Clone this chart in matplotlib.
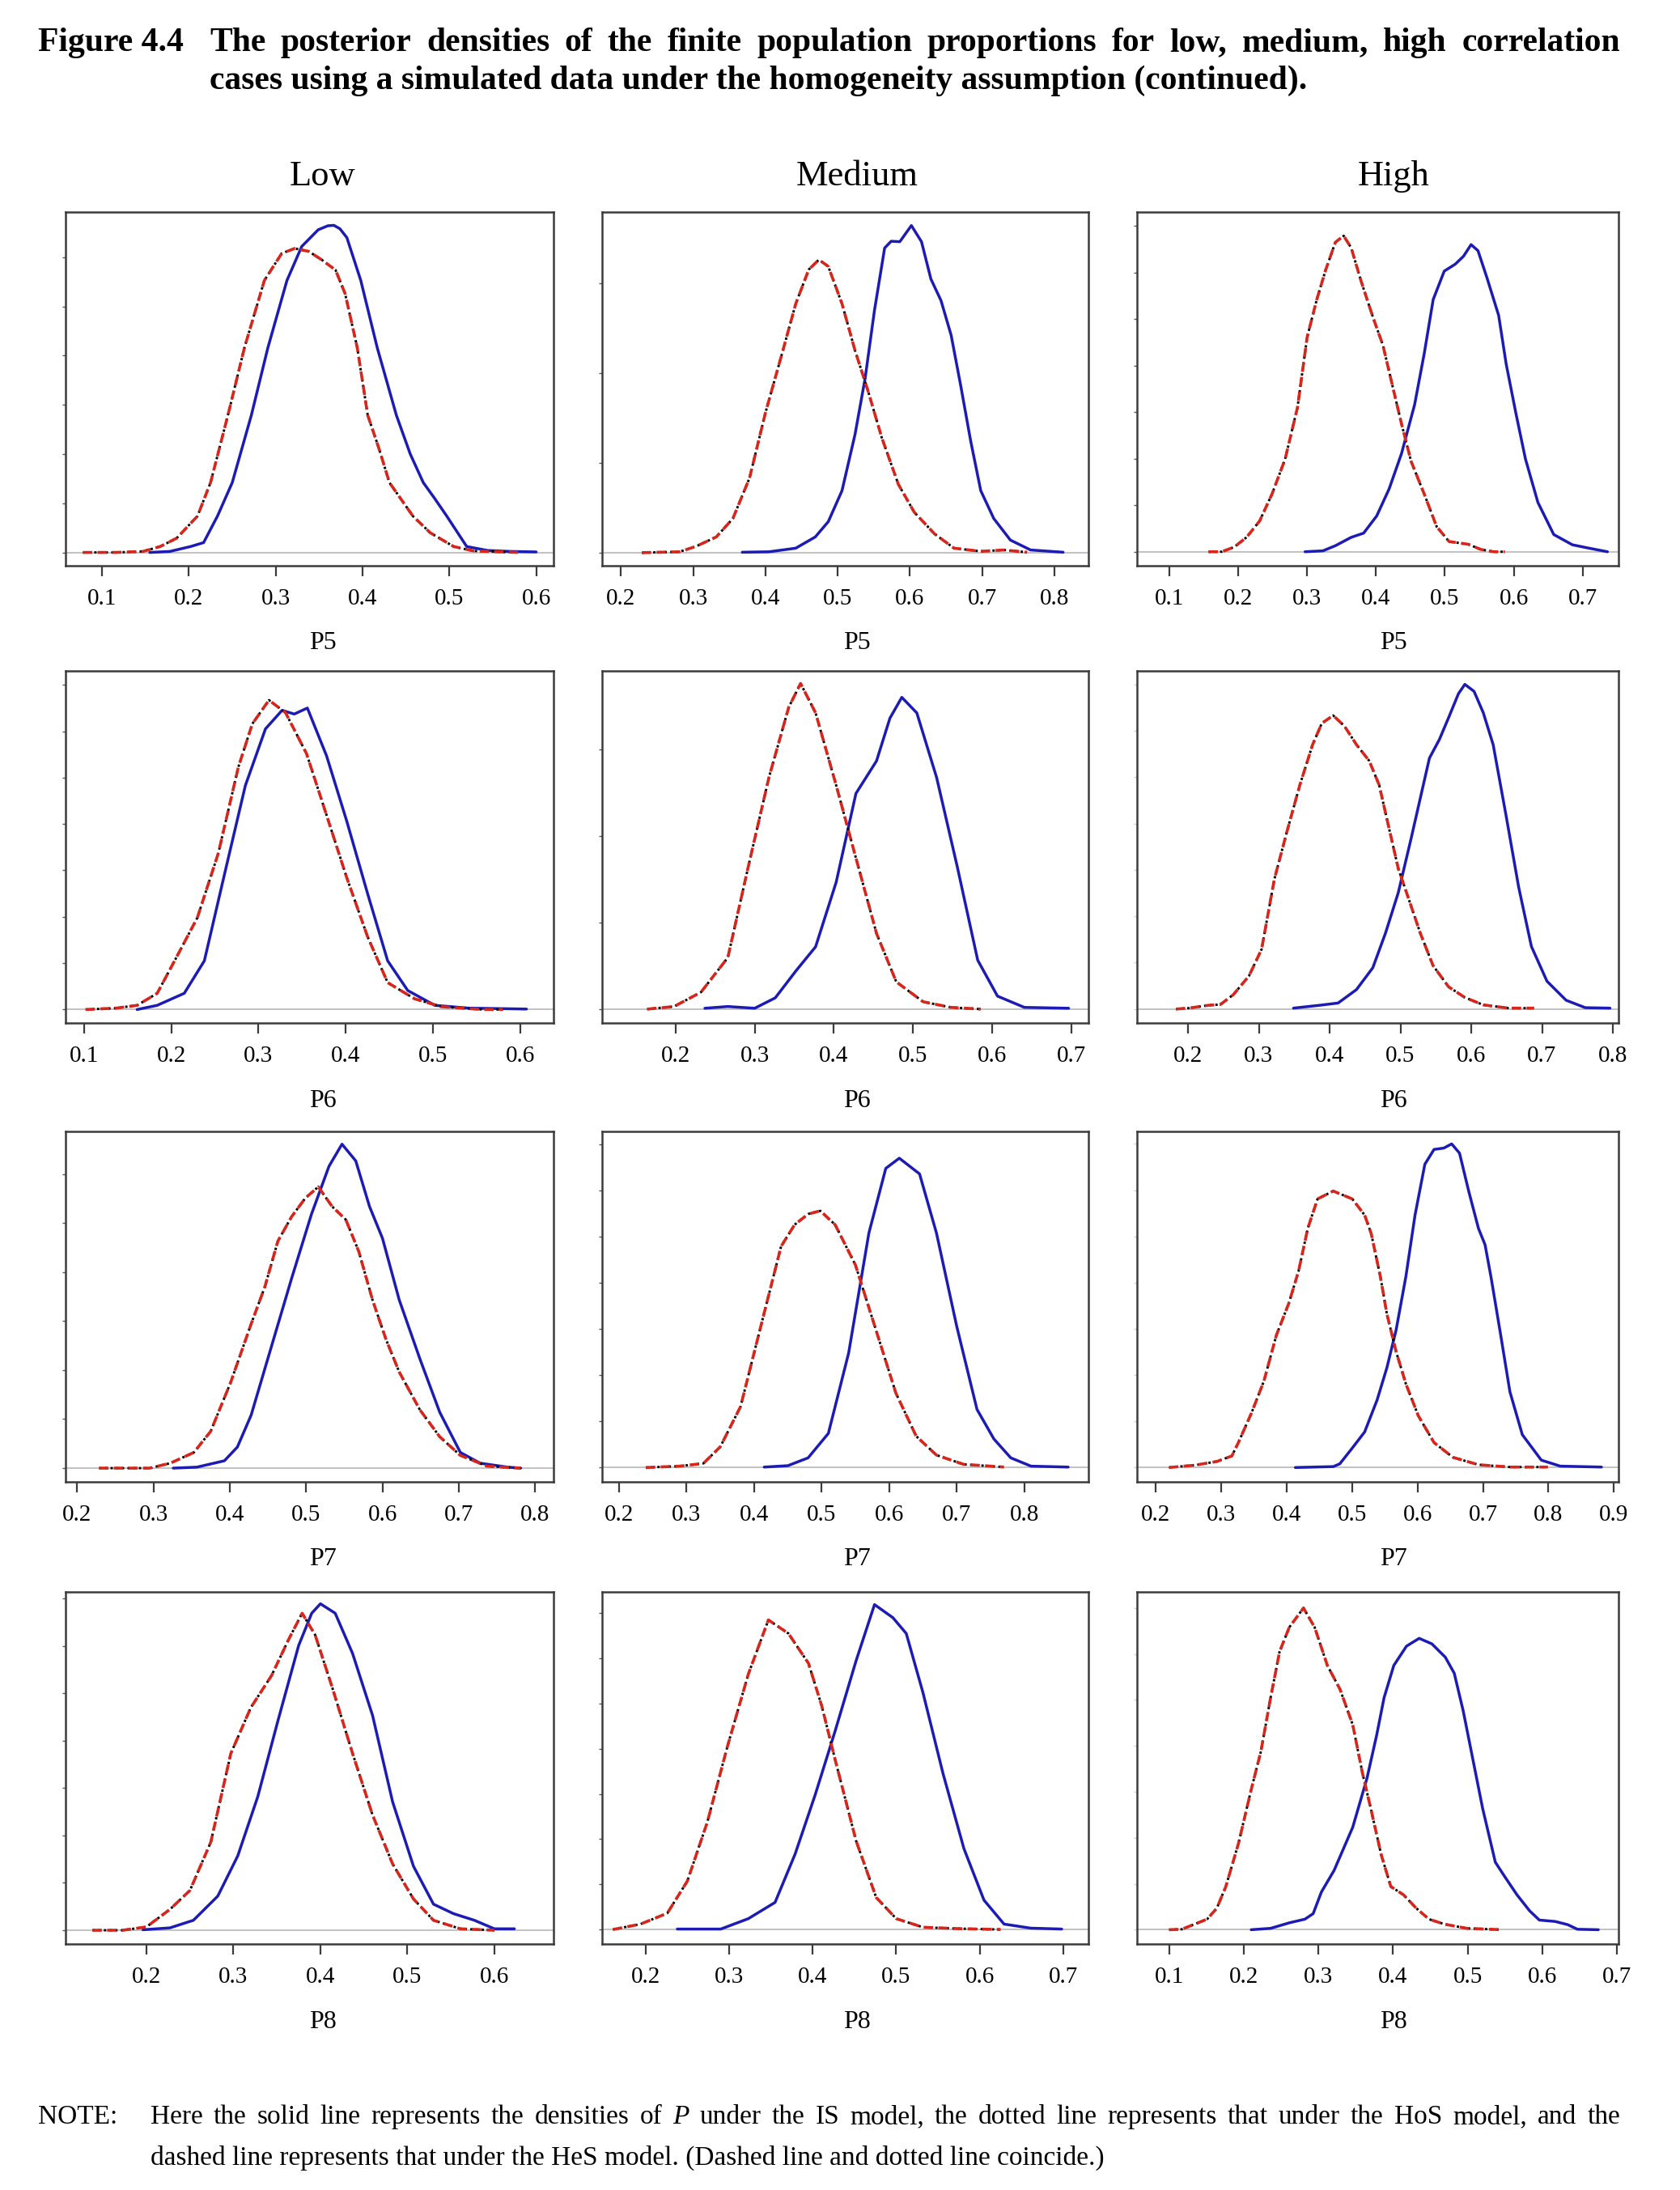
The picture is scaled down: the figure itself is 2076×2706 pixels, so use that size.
import matplotlib
matplotlib.use("Agg")
import matplotlib.pyplot as plt
from matplotlib.ticker import FixedLocator, MultipleLocator, NullFormatter

plt.rcParams['font.family'] = ['Liberation Serif', 'DejaVu Serif']

# ---------------- data ----------------
correlations = ['Low', 'Medium', 'High']
variables = ['P5', 'P6', 'P7', 'P8']

# --- P5 ---
low_p5_is_x = [0.155, 0.178, 0.202, 0.217, 0.233, 0.250, 0.272, 0.291, 0.313, 0.330, 0.349, 0.360, 0.367, 0.374, 0.382, 0.398, 0.417, 0.439, 0.455, 0.470, 0.483, 0.497, 0.520, 0.544, 0.570, 0.600]
low_p5_is_y = [0, 0.02, 0.12, 0.20, 0.74, 1.42, 2.79, 4.16, 5.53, 6.22, 6.56, 6.64, 6.65, 6.58, 6.40, 5.53, 4.16, 2.79, 2.00, 1.42, 1.10, 0.74, 0.12, 0.04, 0.02, 0.01]
low_p5_hs_x = [0.078, 0.116, 0.147, 0.167, 0.186, 0.210, 0.225, 0.245, 0.264, 0.287, 0.307, 0.322, 0.338, 0.353, 0.369, 0.380, 0.394, 0.406, 0.419, 0.431, 0.458, 0.478, 0.505, 0.528, 0.579]
low_p5_hs_y = [0, 0, 0.02, 0.12, 0.29, 0.74, 1.42, 2.79, 4.16, 5.53, 6.08, 6.18, 6.12, 5.95, 5.74, 5.26, 4.16, 2.79, 2.11, 1.42, 0.74, 0.40, 0.12, 0.03, 0]

med_p5_is_x = [0.368, 0.405, 0.442, 0.469, 0.487, 0.506, 0.524, 0.538, 0.551, 0.565, 0.574, 0.586, 0.602, 0.616, 0.629, 0.643, 0.657, 0.670, 0.684, 0.698, 0.716, 0.739, 0.767, 0.812]
med_p5_is_y = [0.01, 0.02, 0.10, 0.35, 0.69, 1.38, 2.63, 3.88, 5.40, 6.78, 6.93, 6.92, 7.28, 6.92, 6.09, 5.61, 4.84, 3.74, 2.49, 1.38, 0.76, 0.28, 0.06, 0.01]
med_p5_hs_x = [0.229, 0.281, 0.304, 0.332, 0.355, 0.378, 0.400, 0.423, 0.442, 0.460, 0.474, 0.487, 0.506, 0.524, 0.542, 0.561, 0.584, 0.606, 0.634, 0.661, 0.698, 0.730, 0.762]
med_p5_hs_y = [0, 0.02, 0.14, 0.35, 0.76, 1.66, 3.11, 4.43, 5.54, 6.30, 6.52, 6.37, 5.54, 4.50, 3.60, 2.56, 1.52, 0.90, 0.42, 0.10, 0.03, 0.06, 0.01]

high_p5_is_x = [0.297, 0.323, 0.341, 0.364, 0.382, 0.401, 0.419, 0.437, 0.456, 0.470, 0.483, 0.499, 0.515, 0.527, 0.538, 0.548, 0.561, 0.578, 0.589, 0.603, 0.617, 0.635, 0.658, 0.685, 0.708, 0.736]
high_p5_is_y = [0, 0.02, 0.13, 0.31, 0.40, 0.77, 1.35, 2.11, 3.16, 4.26, 5.42, 6.03, 6.18, 6.35, 6.60, 6.47, 5.89, 5.08, 4.03, 2.98, 1.99, 1.06, 0.37, 0.15, 0.08, 0]
high_p5_hs_x = [0.157, 0.176, 0.194, 0.212, 0.231, 0.249, 0.268, 0.286, 0.300, 0.314, 0.327, 0.341, 0.353, 0.364, 0.378, 0.396, 0.410, 0.424, 0.437, 0.451, 0.470, 0.488, 0.506, 0.534, 0.552, 0.571, 0.587]
high_p5_hs_y = [0, 0, 0.10, 0.31, 0.66, 1.24, 1.99, 3.10, 4.61, 5.42, 6.06, 6.65, 6.79, 6.53, 5.83, 5.02, 4.44, 3.56, 2.75, 1.94, 1.24, 0.54, 0.22, 0.16, 0.05, 0, 0]

# --- P6 ---
low_p6_is_x = [0.161, 0.184, 0.215, 0.238, 0.261, 0.285, 0.308, 0.327, 0.341, 0.356, 0.378, 0.401, 0.425, 0.448, 0.471, 0.502, 0.541, 0.607]
low_p6_is_y = [0, 0.09, 0.35, 1.05, 2.91, 4.83, 6.05, 6.45, 6.37, 6.50, 5.47, 4.07, 2.50, 1.05, 0.41, 0.09, 0.03, 0.01]
low_p6_hs_x = [0.102, 0.137, 0.161, 0.184, 0.207, 0.230, 0.254, 0.277, 0.293, 0.312, 0.331, 0.355, 0.378, 0.401, 0.425, 0.448, 0.479, 0.510, 0.557, 0.580]
low_p6_hs_y = [0, 0.03, 0.09, 0.35, 1.16, 1.98, 3.37, 5.23, 6.16, 6.67, 6.40, 5.52, 4.19, 2.85, 1.57, 0.58, 0.23, 0.06, 0, 0]

med_p6_is_x = [0.237, 0.266, 0.300, 0.326, 0.352, 0.377, 0.403, 0.428, 0.454, 0.471, 0.486, 0.505, 0.530, 0.556, 0.582, 0.607, 0.641, 0.697]
med_p6_is_y = [0.02, 0.06, 0.02, 0.26, 0.88, 1.44, 2.93, 4.98, 5.73, 6.72, 7.20, 6.84, 5.35, 3.30, 1.13, 0.30, 0.04, 0.02]
med_p6_hs_x = [0.164, 0.198, 0.232, 0.266, 0.292, 0.318, 0.343, 0.358, 0.377, 0.403, 0.428, 0.454, 0.479, 0.513, 0.548, 0.586]
med_p6_hs_y = [0, 0.06, 0.39, 1.19, 3.30, 5.35, 6.97, 7.52, 6.84, 5.17, 3.49, 1.75, 0.63, 0.17, 0.04, 0]

high_p6_is_x = [0.349, 0.385, 0.412, 0.438, 0.461, 0.479, 0.497, 0.515, 0.528, 0.541, 0.555, 0.568, 0.582, 0.591, 0.604, 0.617, 0.631, 0.649, 0.667, 0.685, 0.707, 0.734, 0.761, 0.796]
high_p6_is_y = [0.02, 0.08, 0.13, 0.42, 0.89, 1.64, 2.51, 3.67, 4.54, 5.41, 5.81, 6.28, 6.80, 7.00, 6.85, 6.39, 5.70, 4.19, 2.63, 1.35, 0.60, 0.19, 0.03, 0.02]
high_p6_hs_x = [0.183, 0.201, 0.228, 0.246, 0.264, 0.286, 0.304, 0.322, 0.340, 0.358, 0.376, 0.389, 0.405, 0.421, 0.438, 0.456, 0.470, 0.483, 0.497, 0.510, 0.528, 0.546, 0.568, 0.591, 0.617, 0.653, 0.689]
high_p6_hs_y = [0, 0.02, 0.08, 0.10, 0.31, 0.71, 1.29, 2.80, 3.84, 4.83, 5.70, 6.16, 6.33, 6.10, 5.70, 5.35, 4.83, 3.96, 3.03, 2.45, 1.64, 0.94, 0.48, 0.25, 0.09, 0.02, 0.02]

# --- P7 ---
low_p7_is_x = [0.326, 0.357, 0.393, 0.410, 0.428, 0.454, 0.481, 0.507, 0.530, 0.547, 0.565, 0.583, 0.600, 0.622, 0.649, 0.675, 0.702, 0.728, 0.764, 0.781]
low_p7_is_y = [0, 0.02, 0.15, 0.43, 1.08, 2.45, 3.87, 5.18, 6.16, 6.61, 6.27, 5.34, 4.69, 3.43, 2.23, 1.14, 0.32, 0.10, 0.02, 0]
low_p7_hs_x = [0.229, 0.295, 0.322, 0.353, 0.375, 0.401, 0.428, 0.446, 0.463, 0.481, 0.499, 0.516, 0.534, 0.552, 0.569, 0.587, 0.605, 0.622, 0.649, 0.675, 0.702, 0.737, 0.781]
low_p7_hs_y = [0, 0, 0.10, 0.32, 0.75, 1.74, 2.94, 3.70, 4.63, 5.13, 5.51, 5.74, 5.34, 5.07, 4.42, 3.43, 2.61, 1.96, 1.19, 0.64, 0.26, 0.04, 0]

med_p7_is_x = [0.415, 0.450, 0.480, 0.510, 0.540, 0.570, 0.595, 0.615, 0.645, 0.670, 0.700, 0.730, 0.755, 0.780, 0.810, 0.865]
med_p7_is_y = [0.01, 0.04, 0.21, 0.74, 2.48, 5.08, 6.48, 6.70, 6.36, 5.08, 3.06, 1.26, 0.62, 0.21, 0.03, 0.01]
med_p7_hs_x = [0.240, 0.290, 0.325, 0.350, 0.380, 0.410, 0.440, 0.460, 0.480, 0.498, 0.520, 0.550, 0.580, 0.610, 0.640, 0.670, 0.710, 0.770]
med_p7_hs_y = [0, 0.03, 0.09, 0.45, 1.32, 3.06, 4.79, 5.26, 5.49, 5.56, 5.26, 4.39, 3.00, 1.61, 0.68, 0.27, 0.07, 0.01]

high_p7_is_x = [0.413, 0.471, 0.481, 0.500, 0.519, 0.538, 0.553, 0.567, 0.582, 0.596, 0.611, 0.625, 0.640, 0.652, 0.664, 0.678, 0.693, 0.703, 0.712, 0.727, 0.741, 0.760, 0.789, 0.818, 0.881]
high_p7_is_y = [0, 0.02, 0.08, 0.42, 0.77, 1.46, 2.16, 2.97, 4.13, 5.46, 6.56, 6.88, 6.91, 7.00, 6.80, 5.98, 5.17, 4.82, 4.13, 2.86, 1.64, 0.71, 0.16, 0.03, 0.01]
high_p7_hs_x = [0.220, 0.259, 0.293, 0.316, 0.326, 0.346, 0.365, 0.384, 0.403, 0.418, 0.432, 0.447, 0.471, 0.500, 0.519, 0.529, 0.543, 0.553, 0.567, 0.582, 0.601, 0.625, 0.654, 0.693, 0.741, 0.799]
high_p7_hs_y = [0, 0.05, 0.13, 0.25, 0.54, 1.18, 1.87, 2.86, 3.55, 4.25, 5.17, 5.81, 5.98, 5.81, 5.46, 5.06, 4.13, 3.32, 2.51, 1.81, 1.12, 0.54, 0.22, 0.06, 0.01, 0.01]

# --- P8 ---
low_p8_is_x = [0.196, 0.227, 0.254, 0.282, 0.305, 0.328, 0.351, 0.375, 0.390, 0.400, 0.417, 0.437, 0.460, 0.483, 0.507, 0.530, 0.553, 0.577, 0.600, 0.623]
low_p8_is_y = [0.01, 0.05, 0.21, 0.72, 1.57, 2.82, 4.41, 6.01, 6.69, 6.89, 6.69, 5.84, 4.53, 2.71, 1.35, 0.55, 0.35, 0.21, 0.03, 0.03]
low_p8_hs_x = [0.138, 0.173, 0.200, 0.227, 0.250, 0.274, 0.297, 0.320, 0.344, 0.363, 0.379, 0.394, 0.414, 0.437, 0.460, 0.483, 0.507, 0.530, 0.561, 0.600]
low_p8_hs_y = [0, 0, 0.07, 0.44, 0.84, 1.86, 3.73, 4.70, 5.38, 6.12, 6.69, 6.23, 5.10, 3.73, 2.43, 1.40, 0.66, 0.21, 0.03, 0]

med_p8_is_x = [0.238, 0.290, 0.323, 0.355, 0.379, 0.403, 0.427, 0.452, 0.474, 0.496, 0.512, 0.532, 0.556, 0.581, 0.605, 0.629, 0.661, 0.698]
med_p8_is_y = [0.01, 0.01, 0.24, 0.60, 1.67, 2.98, 4.40, 5.95, 7.19, 6.90, 6.55, 5.24, 3.45, 1.79, 0.65, 0.12, 0.03, 0.01]
med_p8_hs_x = [0.161, 0.194, 0.226, 0.250, 0.274, 0.298, 0.323, 0.347, 0.371, 0.395, 0.411, 0.427, 0.452, 0.476, 0.500, 0.532, 0.573, 0.625]
med_p8_hs_y = [0, 0.12, 0.36, 1.07, 2.38, 4.05, 5.65, 6.85, 6.55, 5.89, 4.94, 3.75, 1.96, 0.71, 0.24, 0.05, 0.02, 0]

high_p8_is_x = [0.210, 0.236, 0.261, 0.282, 0.293, 0.304, 0.321, 0.346, 0.365, 0.378, 0.388, 0.401, 0.418, 0.435, 0.452, 0.470, 0.482, 0.494, 0.507, 0.520, 0.537, 0.549, 0.566, 0.583, 0.596, 0.617, 0.634, 0.647, 0.675]
high_p8_is_y = [0, 0.03, 0.15, 0.23, 0.35, 0.82, 1.29, 2.23, 3.29, 4.23, 5.05, 5.75, 6.17, 6.34, 6.22, 5.93, 5.58, 4.76, 3.70, 2.64, 1.47, 1.17, 0.76, 0.41, 0.21, 0.18, 0.11, 0.01, 0]
high_p8_hs_x = [0.100, 0.117, 0.134, 0.151, 0.164, 0.176, 0.193, 0.210, 0.223, 0.236, 0.248, 0.261, 0.280, 0.295, 0.312, 0.329, 0.346, 0.359, 0.371, 0.384, 0.397, 0.414, 0.431, 0.448, 0.469, 0.499, 0.545]
high_p8_hs_y = [0, 0.01, 0.12, 0.23, 0.47, 0.94, 1.88, 3.05, 3.88, 5.05, 6.05, 6.58, 7.00, 6.58, 5.75, 5.23, 4.46, 3.41, 2.58, 1.64, 0.94, 0.76, 0.47, 0.23, 0.12, 0.03, 0]

# x tick labels of each panel (rows P5..P8, columns Low/Medium/High)
xtick_values = [
    [[0.1, 0.2, 0.3, 0.4, 0.5, 0.6], [0.2, 0.3, 0.4, 0.5, 0.6, 0.7, 0.8], [0.1, 0.2, 0.3, 0.4, 0.5, 0.6, 0.7]],
    [[0.1, 0.2, 0.3, 0.4, 0.5, 0.6], [0.2, 0.3, 0.4, 0.5, 0.6, 0.7], [0.2, 0.3, 0.4, 0.5, 0.6, 0.7, 0.8]],
    [[0.2, 0.3, 0.4, 0.5, 0.6, 0.7, 0.8], [0.2, 0.3, 0.4, 0.5, 0.6, 0.7, 0.8], [0.2, 0.3, 0.4, 0.5, 0.6, 0.7, 0.8, 0.9]],
    [[0.2, 0.3, 0.4, 0.5, 0.6], [0.2, 0.3, 0.4, 0.5, 0.6, 0.7], [0.1, 0.2, 0.3, 0.4, 0.5, 0.6, 0.7]],
]

curves = [
    [(low_p5_is_x, low_p5_is_y, low_p5_hs_x, low_p5_hs_y),
     (med_p5_is_x, med_p5_is_y, med_p5_hs_x, med_p5_hs_y),
     (high_p5_is_x, high_p5_is_y, high_p5_hs_x, high_p5_hs_y)],
    [(low_p6_is_x, low_p6_is_y, low_p6_hs_x, low_p6_hs_y),
     (med_p6_is_x, med_p6_is_y, med_p6_hs_x, med_p6_hs_y),
     (high_p6_is_x, high_p6_is_y, high_p6_hs_x, high_p6_hs_y)],
    [(low_p7_is_x, low_p7_is_y, low_p7_hs_x, low_p7_hs_y),
     (med_p7_is_x, med_p7_is_y, med_p7_hs_x, med_p7_hs_y),
     (high_p7_is_x, high_p7_is_y, high_p7_hs_x, high_p7_hs_y)],
    [(low_p8_is_x, low_p8_is_y, low_p8_hs_x, low_p8_hs_y),
     (med_p8_is_x, med_p8_is_y, med_p8_hs_x, med_p8_hs_y),
     (high_p8_is_x, high_p8_is_y, high_p8_hs_x, high_p8_hs_y)],
]

# ---------------- layout / style ----------------
W, H = 2076, 2706
xlims = [
    [(0.058, 0.620), (0.174, 0.847), (0.053, 0.752)],
    [(0.079, 0.638), (0.107, 0.722), (0.128, 0.808)],
    [(0.185, 0.824), (0.175, 0.895), (0.171, 0.907)],
    [(0.107, 0.668), (0.148, 0.730), (0.057, 0.702)],
]
ylims = [
    [(-0.27, 6.92), (-0.29, 7.58), (-0.30, 7.30)],
    [(-0.29, 7.30), (-0.32, 7.81), (-0.30, 7.29)],
    [(-0.28, 6.87), (-0.31, 7.28), (-0.31, 7.27)],
    [(-0.29, 7.14), (-0.32, 7.47), (-0.31, 7.35)],
]
ystep = [[1, 2, 1], [1, 2, 1], [1, 1, 1], [1, 1, 1]]
faint_yticks = [[False, False, False], [False, False, True], [False, False, True], [False, False, True]]

col_px = [(81, 684), (744, 1345), (1405, 2000)]
row_px = [(262, 699), (829, 1264), (1398, 1831), (1967, 2402)]
col_label_x = [399, 1059, 1722]

BLUE = '#1c1cb4'
RED = '#d8261c'
FRAME = '#3c3c3c'

fig = plt.figure(figsize=(W / 100, H / 100), dpi=100)
fig.patch.set_facecolor('white')

def fx(px):
    return px / W

def fy(py):
    return 1 - py / H

for r in range(4):
    for c in range(3):
        x0, x1 = col_px[c]
        y0, y1 = row_px[r]
        ax = fig.add_axes([fx(x0), fy(y1), (x1 - x0) / W, (y1 - y0) / H])
        isx, isy, hsx, hsy = curves[r][c]
        ax.axhline(0, color='#bdbdbd', lw=1.3, zorder=1)
        ax.plot(isx, isy, color=BLUE, lw=2.5, solid_joinstyle='round', solid_capstyle='round', zorder=3)
        ax.plot(hsx, hsy, color='black', lw=2.1, dashes=(1.0, 1.4), zorder=4)
        ax.plot(hsx, hsy, color=RED, lw=2.6, dashes=(3.2, 1.8), zorder=5)
        ax.set_xlim(*xlims[r][c])
        ax.set_ylim(*ylims[r][c])
        ax.xaxis.set_major_locator(FixedLocator(xtick_values[r][c]))
        ax.set_xticklabels([f'{v:.1f}' for v in xtick_values[r][c]])
        ax.yaxis.set_major_locator(MultipleLocator(ystep[r][c]))
        ax.yaxis.set_major_formatter(NullFormatter())
        ax.tick_params(axis='x', direction='out', length=9, width=1.6, color=FRAME,
                       labelsize=21, pad=11)
        ycol = '#cfcfcf' if faint_yticks[r][c] else '#555555'
        ax.tick_params(axis='y', direction='out', length=3, width=1.0, color=ycol)
        for s in ax.spines.values():
            s.set_color(FRAME)
            s.set_linewidth(1.8)
        # x label (variable)
        fig.text(fx(col_label_x[c]), fy(y1 + 96), variables[r], ha='center', va='center', fontsize=23)

for c in range(3):
    fig.text(fx(col_label_x[c]), fy(218), correlations[c], ha='center', va='center', fontsize=32)

# ---------------- caption and note ----------------
renderer = fig.canvas.get_renderer()

def justify(words, x0, x1, ypx, **kw):
    texts = []
    for w in words:
        if isinstance(w, tuple):
            word, extra = w
        else:
            word, extra = w, {}
        t = fig.text(0, fy(ypx), word, ha='left', va='center', **kw, **extra)
        texts.append(t)
    widths = [t.get_window_extent(renderer).width for t in texts]
    gap = (x1 - x0 - sum(widths)) / (len(texts) - 1)
    x = x0
    for t, w in zip(texts, widths):
        t.set_x(fx(x))
        x += w + gap

title_kw = dict(fontsize=30, fontweight='bold')
fig.text(fx(47), fy(53), 'Figure 4.4', ha='left', va='center', **title_kw)
justify('The posterior densities of the finite population proportions for low, medium, high correlation'.split(),
        259, 2002, 53, **title_kw)
fig.text(fx(259), fy(100), 'cases using a simulated data under the homogeneity assumption (continued).',
         ha='left', va='center', **title_kw)

note_kw = dict(fontsize=24)
fig.text(fx(47), fy(2616), 'NOTE:', ha='left', va='center', **note_kw)
words1 = 'Here the solid line represents the densities of'.split() + [('P', {'style': 'italic'})] + \
    'under the IS model, the dotted line represents that under the HoS model, and the'.split()
justify(words1, 186, 2002, 2616, **note_kw)
fig.text(fx(186), fy(2666), 'dashed line represents that under the HeS model. (Dashed line and dotted line coincide.)',
         ha='left', va='center', **note_kw)

fig.savefig('out.png', dpi=100, facecolor='white')
